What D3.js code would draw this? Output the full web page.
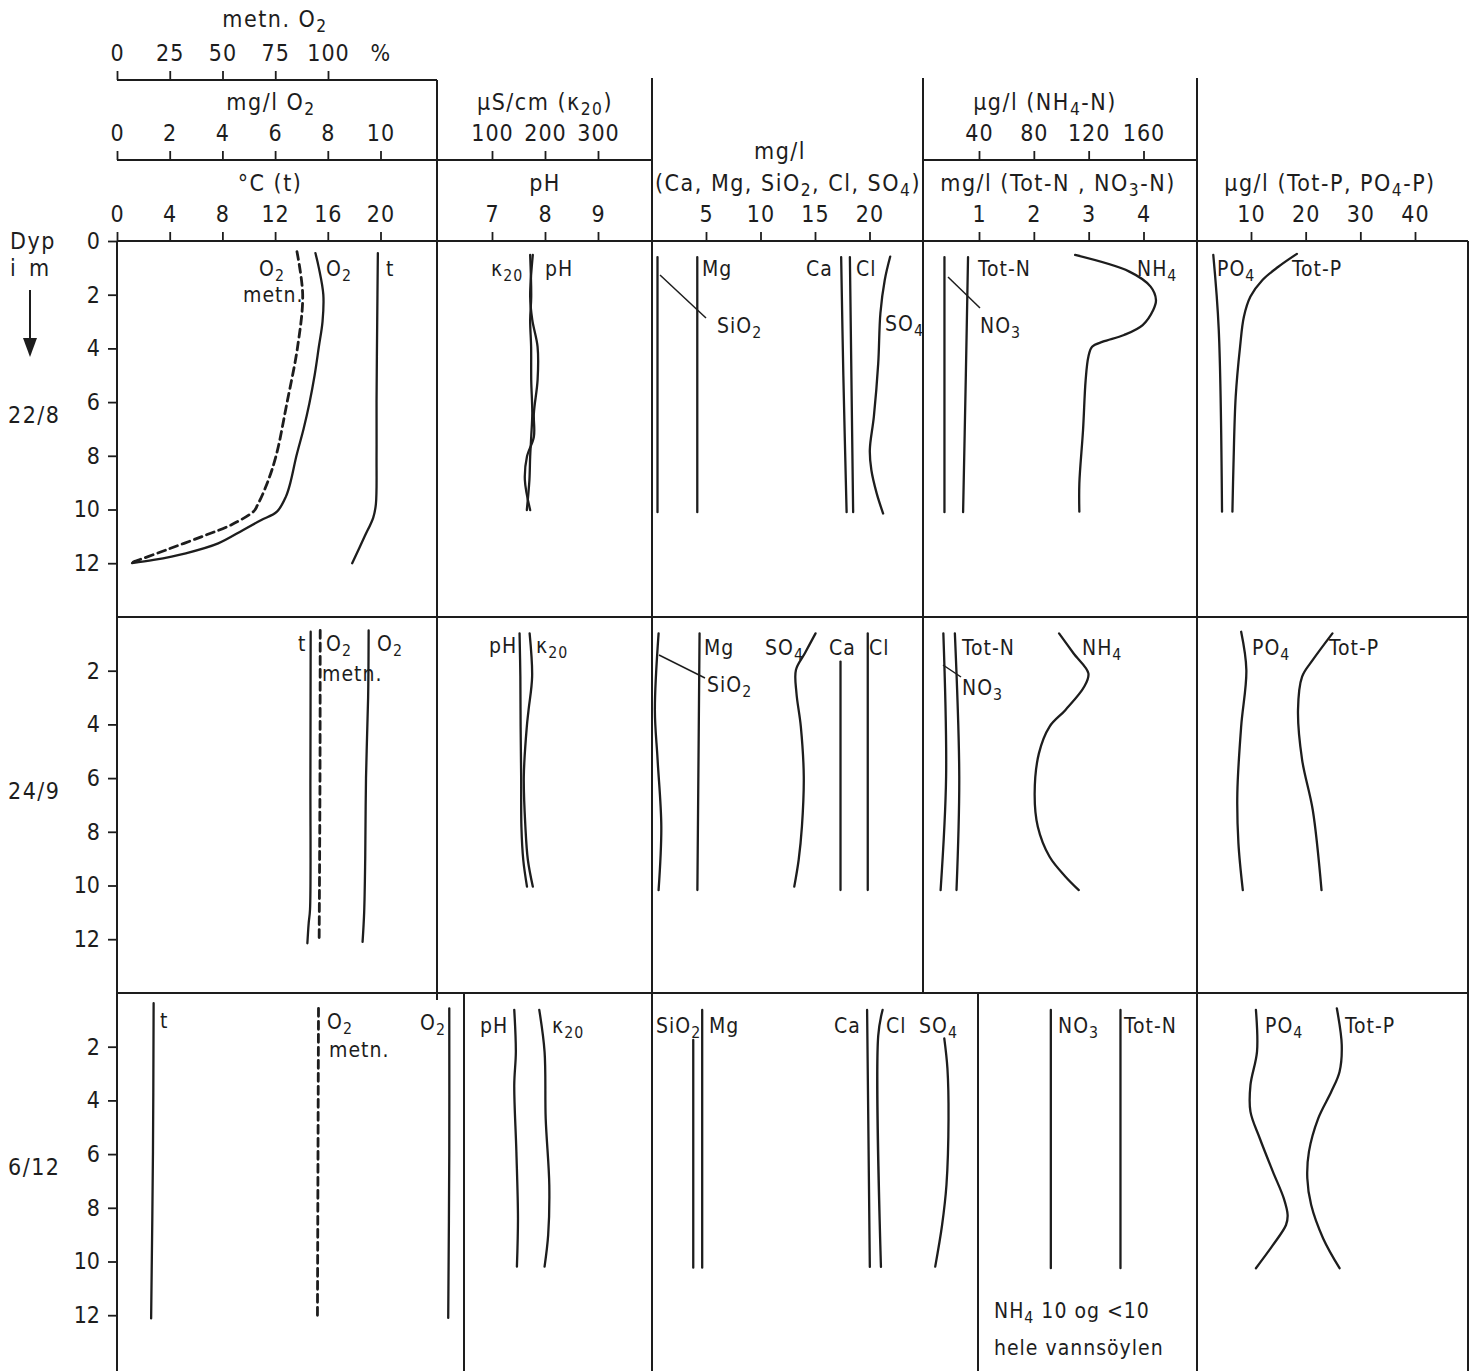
<!DOCTYPE html>
<html><head><meta charset="utf-8">
<script src="https://cdn.jsdelivr.net/npm/d3@7"></script>
<style>body{margin:0;background:#fff}</style>
</head><body>
<svg id="c" width="1473" height="1371"></svg>
<script>
// ---------------- DATA ----------------
const dates = ["22/8", "24/9", "6/12"];
const depthTicksFirst = [0, 2, 4, 6, 8, 10, 12];
const depthTicks = [2, 4, 6, 8, 10, 12];
const satTicks = [0, 25, 50, 75, 100];
const o2Ticks = [0, 2, 4, 6, 8, 10];
const tempTicks = [0, 4, 8, 12, 16, 20];
const condTicks = [100, 200, 300];
const phTicks = [7, 8, 9];
const ionTicks = [5, 10, 15, 20];
const nh4Ticks = [40, 80, 120, 160];
const nTicks = [1, 2, 3, 4];
const pTicks = [10, 20, 30, 40];

// each point: [depth m, value]
// 22/8
const temp_0822 = [[0.45,19.8],[3,19.75],[6,19.7],[8,19.7],[9.8,19.65],[10.3,19.45],[11,18.8],[12,17.85]];
const o2_0822 = [[0.45,7.53],[1,7.66],[2,7.83],[3,7.8],[3.94,7.66],[5,7.5],[6.05,7.3],[7,7.08],[8,6.81],[9,6.58],[9.52,6.41],[10.08,6.07],[10.4,5.46],[10.76,4.79],[11.26,3.84],[11.63,2.61],[11.88,1.39],[12.0,0.57]];
const sat_0822 = [[0.4,85.3],[2,88],[3.94,85.6],[6.05,80.5],[8,75.4],[9.1,70.8],[9.85,66.5],[10.06,64.9],[10.55,54.7],[10.98,41.2],[11.48,24.2],[11.92,8.9],[12.0,6]];
const ph_0822 = [[0.52,7.77],[2.07,7.72],[2.94,7.76],[3.94,7.86],[5.18,7.86],[6.42,7.79],[7.29,7.79],[8.03,7.66],[8.9,7.62],[10.02,7.72]];
const cond_0822 = [[0.52,172],[2.07,174],[2.94,172],[3.94,173.8],[5.18,174],[6.42,176],[7.29,174],[8.03,172],[8.9,170.6],[10.02,165.7]];
const sio2_0822 = [[0.6,0.55],[10.1,0.55]];
const mg_0822 = [[0.6,4.2],[10.1,4.2]];
const ca_0822 = [[0.6,17.4],[5,17.6],[10.1,17.9]];
const cl_0822 = [[0.6,18.2],[10.1,18.5]];
const so4_0822 = [[0.58,21.9],[1.45,21.4],[2.69,21.0],[4.56,20.8],[6.54,20.4],[7.78,20.03],[8.53,20.17],[9.4,20.66],[10.15,21.25]];
const no3_0822 = [[0.6,0.37],[10.1,0.37]];
const totn_0822 = [[0.6,0.8],[5,0.76],[10.1,0.71]];
const nh4_0822 = [[0.52,110.1],[1.14,149.7],[1.7,165.2],[2.2,169.1],[2.57,167.1],[3.13,159.4],[3.5,145.8],[3.75,130.3],[3.94,122.5],[4.31,119.8],[5.18,117.8],[7.04,115.9],[9.03,113.2],[10.08,113.2]];
const po4_0822 = [[0.52,3.1],[3.3,4.1],[10.08,4.7]];
const totp_0822 = [[0.48,18.4],[0.96,15.0],[1.45,12.1],[2.07,9.9],[2.82,8.7],[3.94,8.0],[5.8,7.2],[8.29,6.8],[10.08,6.6]];
// 24/9
const temp_0924 = [[0.55,14.7],[6,14.68],[10.9,14.65],[11.4,14.55],[12.15,14.45]];
const o2_0924 = [[0.5,9.55],[3,9.53],[6,9.45],[9,9.42],[11,9.38],[12.1,9.32]];
const sat_0924 = [[0.5,96.3],[6,96.2],[12.1,95.8]];
const ph_0924 = [[0.61,7.52],[2.22,7.535],[4.08,7.54],[5.95,7.55],[7.81,7.555],[9.05,7.59],[10.04,7.66]];
const cond_0924 = [[0.61,171],[2.22,175.7],[3.46,169],[4.08,165.7],[5.95,160],[7.81,163],[9.05,167.7],[10.04,177]];
const sio2_0924 = [[0.61,0.65],[3.46,0.31],[5.32,0.56],[7.81,0.9],[10.17,0.65]];
const mg_0924 = [[0.61,4.41],[10.17,4.21]];
const ca_0924 = [[1.66,17.34],[10.17,17.34]];
const cl_0924 = [[0.61,19.84],[10.17,19.84]];
const so4_0924 = [[0.61,15.05],[1.35,14.07],[1.97,13.25],[2.84,13.3],[4.08,13.7],[5.95,13.97],[7.81,13.8],[9.05,13.5],[10.04,13.1]];
const no3_0924 = [[0.61,0.35],[5.95,0.4],[10.17,0.3]];
const totn_0924 = [[0.61,0.56],[5.95,0.64],[10.17,0.59]];
const nh4_0924 = [[0.61,98.4],[1.35,108.9],[2.1,119.8],[2.6,116.7],[3.46,103.1],[4.08,91.5],[5.08,83.7],[6.57,80.6],[7.81,82.9],[8.93,91.5],[9.67,103.1],[10.17,112.8]];
const po4_0924 = [[0.55,8.2],[1.97,9.15],[4.08,8.2],[6.57,7.5],[8.43,7.7],[10.17,8.5]];
const totp_0924 = [[0.61,24.9],[1.6,21.3],[2.22,19.35],[3.46,18.6],[5.32,19.35],[7.19,21.3],[10.17,22.9]];
// 6/12
const temp_0612 = [[0.38,2.78],[5.91,2.73],[12.12,2.59]];
const o2_0612 = [[0.57,12.61],[5.9,12.61],[12.1,12.57]];
const sat_0612 = [[0.57,95.5],[12.05,95.0]];
const ph_0612 = [[0.63,7.42],[2.19,7.45],[3.43,7.42],[5.91,7.46],[8.39,7.49],[10.19,7.47]];
const cond_0612 = [[0.63,189.2],[2.19,199.2],[4.67,201.3],[7.15,208.1],[9.01,206],[10.19,199.2]];
const sio2_0612 = [[1.75,3.83],[10.23,3.83]];
const mg_0612 = [[0.63,4.65],[10.23,4.65]];
const ca_0612 = [[0.63,19.78],[10.2,20.03]];
const cl_0612 = [[0.63,21.2],[1.6,20.8],[10.2,21.05]];
const so4_0612 = [[1.69,26.86],[2.81,27.15],[4.67,27.25],[7.15,27.06],[8.64,26.66],[10.19,26.03]];
const no3_0612 = [[0.63,2.31],[10.25,2.31]];
const totn_0612 = [[0.63,3.58],[10.25,3.58]];
const po4_0612 = [[0.63,10.9],[2.18,11.1],[3.43,9.9],[4.42,9.9],[5.41,11.6],[6.65,14.0],[7.65,16.0],[8.27,16.7],[8.64,16.4],[9.39,14.0],[10.25,10.9]];
const totp_0612 = [[0.57,25.7],[1.94,26.6],[2.93,26.2],[3.67,24.7],[4.67,22.3],[5.91,20.6],[6.9,20.3],[7.89,21.0],[9.14,23.2],[10.25,26.2]];

// ---------------- LAYOUT ----------------
const W = 1473, H = 1371;
const INK = "#1d1d1d";
const FONT = '"Liberation Sans Narrow","DejaVu Sans Condensed","Arial Narrow",sans-serif';
const FS = 23;
const FS_IN = 21;

const xSat  = d3.scaleLinear([0, 100], [117, 328]);
const xO2   = d3.scaleLinear([0, 10], [117, 380.5]);
const xTemp = d3.scaleLinear([0, 20], [117, 380.5]);
const xCond = d3.scaleLinear([100, 300], [492, 598]);
const xPH   = d3.scaleLinear([7, 9], [492, 598]);
const xIon  = d3.scaleLinear([0, 20], [651.5, 869.5]);
const xNH4  = d3.scaleLinear([40, 160], [979, 1143.5]);
const xN    = d3.scaleLinear([1, 4], [979, 1143.5]);
const xP    = d3.scaleLinear([10, 40], [1251, 1415]);

const rowTop = [241, 617, 993];
const yRow = rowTop.map(t => d3.scaleLinear([0, 14], [t, t + 375.9]));

const series = [
  {r:0,x:xTemp,d:temp_0822},{r:0,x:xO2,d:o2_0822},{r:0,x:xSat,d:sat_0822,dash:true},
  {r:0,x:xPH,d:ph_0822},{r:0,x:xCond,d:cond_0822},
  {r:0,x:xIon,d:sio2_0822},{r:0,x:xIon,d:mg_0822},{r:0,x:xIon,d:ca_0822},{r:0,x:xIon,d:cl_0822},{r:0,x:xIon,d:so4_0822},
  {r:0,x:xN,d:no3_0822},{r:0,x:xN,d:totn_0822},{r:0,x:xNH4,d:nh4_0822},
  {r:0,x:xP,d:po4_0822},{r:0,x:xP,d:totp_0822},
  {r:1,x:xTemp,d:temp_0924},{r:1,x:xO2,d:o2_0924},{r:1,x:xSat,d:sat_0924,dash:true},
  {r:1,x:xPH,d:ph_0924},{r:1,x:xCond,d:cond_0924},
  {r:1,x:xIon,d:sio2_0924},{r:1,x:xIon,d:mg_0924},{r:1,x:xIon,d:ca_0924},{r:1,x:xIon,d:cl_0924},{r:1,x:xIon,d:so4_0924},
  {r:1,x:xN,d:no3_0924},{r:1,x:xN,d:totn_0924},{r:1,x:xNH4,d:nh4_0924},
  {r:1,x:xP,d:po4_0924},{r:1,x:xP,d:totp_0924},
  {r:2,x:xTemp,d:temp_0612},{r:2,x:xO2,d:o2_0612},{r:2,x:xSat,d:sat_0612,dash:true},
  {r:2,x:xPH,d:ph_0612},{r:2,x:xCond,d:cond_0612},
  {r:2,x:xIon,d:sio2_0612},{r:2,x:xIon,d:mg_0612},{r:2,x:xIon,d:ca_0612},{r:2,x:xIon,d:cl_0612},{r:2,x:xIon,d:so4_0612},
  {r:2,x:xN,d:no3_0612},{r:2,x:xN,d:totn_0612},
  {r:2,x:xP,d:po4_0612},{r:2,x:xP,d:totp_0612}
];

const svg = d3.select("#c");
svg.append("rect").attr("width", W).attr("height", H).attr("fill", "#fff");

function rich(sel, str) {
  const parts = str.split(/(\{[^}]*\})/).filter(s => s.length);
  let wasSub = false;
  parts.forEach(p => {
    if (p[0] === "{") {
      sel.append("tspan").attr("font-size", "0.75em").attr("dy", "0.3em").text(p.slice(1, -1));
      wasSub = true;
    } else {
      const t = sel.append("tspan").text(p);
      if (wasSub) t.attr("dy", "-0.225em");
      wasSub = false;
    }
  });
}
function label(str, x, y, anchor, size, ls) {
  const t = svg.append("text").attr("x", x).attr("y", y)
    .attr("font-family", FONT).attr("font-size", size || FS).attr("fill", INK)
    .attr("letter-spacing", ls === undefined ? 1.5 : ls).attr("text-anchor", anchor || "start");
  rich(t, str);
  return t;
}
function seg(x1, y1, x2, y2, w) {
  svg.append("line").attr("x1", x1).attr("y1", y1).attr("x2", x2).attr("y2", y2)
    .attr("stroke", INK).attr("stroke-width", w || 2);
}

// frame
const frame = [
  [117,241,1468,241],[117,617,1468,617],[117,993,1468,993],
  [117,241,117,1371],[437,80,437,1000],[464,993,464,1371],[652,78,652,1371],
  [923,78,923,993],[978,993,978,1371],[1197,78,1197,1371],[1468,241,1468,1371],
  [117,80,437,80],[117,160,652,160],[923,160,1197,160]
];
frame.forEach(f => seg(f[0], f[1], f[2], f[3], 2));

// top axes
function topAxis(scale, ticks, y) {
  const g = svg.append("g").attr("transform", `translate(0,${y})`)
    .call(d3.axisTop(scale).tickValues(ticks).tickSize(9).tickPadding(10).tickFormat(d3.format("d")));
  g.select(".domain").remove();
  g.selectAll("line").attr("stroke", INK).attr("stroke-width", 1.8);
  g.selectAll("text").attr("font-family", FONT).attr("font-size", FS).attr("fill", INK).attr("letter-spacing", 1);
}
topAxis(xSat, satTicks, 80);
topAxis(xO2, o2Ticks, 160);
topAxis(xTemp, tempTicks, 241);
topAxis(xCond, condTicks, 160);
topAxis(xPH, phTicks, 241);
topAxis(xIon, ionTicks, 241);
topAxis(xNH4, nh4Ticks, 160);
topAxis(xN, nTicks, 241);
topAxis(xP, pTicks, 241);

// depth axes
yRow.forEach((ys, r) => {
  const g = svg.append("g").attr("transform", "translate(117,0)")
    .call(d3.axisLeft(ys).tickValues(r === 0 ? depthTicksFirst : depthTicks).tickSize(9).tickPadding(8));
  g.select(".domain").remove();
  g.selectAll("line").attr("stroke", INK).attr("stroke-width", 1.8);
  g.selectAll("text").attr("font-family", FONT).attr("font-size", FS).attr("fill", INK);
});

// profiles
series.forEach(s => {
  const line = d3.line().x(p => s.x(p[1])).y(p => yRow[s.r](p[0])).curve(d3.curveCatmullRom.alpha(0.5));
  svg.append("path").datum(s.d).attr("d", line).attr("fill", "none")
    .attr("stroke", INK).attr("stroke-width", s.dash ? 2.8 : 2.3)
    .attr("stroke-linecap", "round")
    .attr("stroke-dasharray", s.dash ? "8,5" : null);
});

// header texts
[["metn. O{2}",275,27],["mg/l O{2}",271,110],["°C (t)",270,191],
 ["µS/cm (κ{20})",545,110],["pH",545,191],
 ["mg/l",780,159],["(Ca, Mg, SiO{2}, Cl, SO{4})",788,191],
 ["µg/l (NH{4}-N)",1045,110],["mg/l (Tot-N , NO{3}-N)",1058,191],
 ["µg/l (Tot-P, PO{4}-P)",1330,191],["%",381,61]
].forEach(h => label(h[0], h[1], h[2], "middle"));

// left texts
label("Dyp", 10, 249);
label("i\u2002m", 10, 276);
dates.forEach((d, i) => label(d, 8, rowTop[i] + 182));
seg(30, 290, 30, 340, 2);
svg.append("path").attr("d", "M23,338 L30,357 L37,338 Z").attr("fill", INK);

// in-panel labels
[
 ["O{2}",259,276],["metn.",243,302],["O{2}",326,276],["t",386,276],["κ{20}",491,276],["pH",545,276],
 ["Mg",702,276],["SiO{2}",717,333],["Ca",806,276],["Cl",856,276],["SO{4}",885,331],
 ["Tot-N",978,276],["NO{3}",980,333],["NH{4}",1137,276],["PO{4}",1217,276],["Tot-P",1292,276],
 ["t",298,651],["O{2}",326,651],["metn.",322,681],["O{2}",377,651],["pH",489,653],["κ{20}",536,653],
 ["Mg",704,655],["SO{4}",765,655],["Ca",829,655],["Cl",869,655],["SiO{2}",707,692],
 ["Tot-N",962,655],["NO{3}",962,695],["NH{4}",1082,655],["PO{4}",1252,655],["Tot-P",1329,655],
 ["t",160,1028],["O{2}",327,1029],["metn.",329,1057],["O{2}",420,1030],["pH",480,1033],["κ{20}",552,1033],
 ["SiO{2}",656,1033],["Mg",709,1033],["Ca",834,1033],["Cl",886,1033],["SO{4}",919,1033],
 ["NO{3}",1058,1033],["Tot-N",1124,1033],["PO{4}",1265,1033],["Tot-P",1345,1033],
 ["NH{4} 10 og <10",994,1318],["hele vannsöylen",994,1355]
].forEach(l => label(l[0], l[1], l[2], "start", FS_IN, 1));

// leader lines
[[660,275,706,318],[948,277,980,308],[659,655,705,678],[943,665,961,677]]
  .forEach(l => seg(l[0], l[1], l[2], l[3], 1.5));
</script>
</body></html>
